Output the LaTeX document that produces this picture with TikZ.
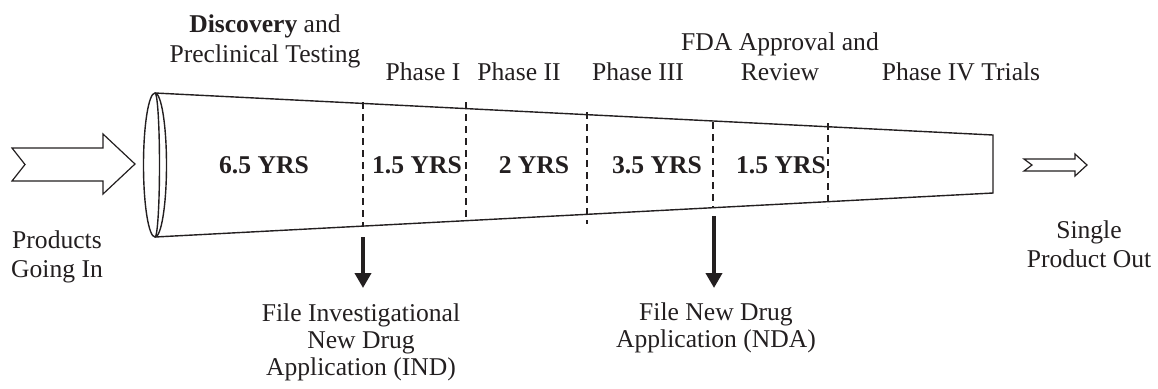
\documentclass[tikz,border=0pt]{standalone}
\usepackage{fontspec}
\setmainfont{Liberation Serif}
\usetikzlibrary{arrows.meta}
\definecolor{ink}{RGB}{35,31,32}
\begin{document}
\begin{tikzpicture}[x=0.5pt,y=-0.5pt,
  every node/.style={inner sep=0pt, text=ink},
  lbl/.style={font=\fontsize{12.8}{15}\selectfont, align=center, anchor=base},
  sidelbl/.style={font=\fontsize{12.8}{14.5}\selectfont, align=center, anchor=base},
  lowlbl/.style={font=\fontsize{12.8}{13.5}\selectfont, align=center, anchor=base},
  yrs/.style={font=\fontsize{12.8}{15}\selectfont\bfseries, anchor=base},
  rim/.style={draw=ink, line width=0.7pt},
  stagediv/.style={draw=ink, line width=0.6pt, dash pattern=on 3.5pt off 2.5pt},
  filearrow/.style={draw=ink, line width=2pt, -{Triangle[length=7.5pt,width=8pt]}},
  hollow/.style={draw=ink, line width=0.6pt, fill=white, line join=miter}
]
\useasboundingbox (0,0) rectangle (1158,388);

% funnel outline
\coordinate (ftl) at (155,93);
\coordinate (fbl) at (155,237);
\coordinate (ftr) at (993,135);
\coordinate (fbr) at (993,193);
\draw[rim] (ftl) -- (ftr) -- (fbr) -- (fbl);
\draw[rim] (155,165) ellipse [x radius=11.5, y radius=72];
\draw[rim] (ftl) arc[start angle=-90, end angle=90, x radius=4.5, y radius=72];

% stage boundaries
\draw[stagediv] (363,102) -- (363,227);
\draw[stagediv] (466,102) -- (466,217);
\draw[stagediv] (587,112) -- (587,224);
\draw[stagediv] (713,122) -- (713,208);
\draw[stagediv] (828,123) -- (828,207);

% hollow in/out arrows
\draw[hollow] (12,148) -- (103,148) -- (103,134) -- (135,164) -- (103,194)
  -- (103,181) -- (12,181) -- (25,164.5) -- cycle;
\draw[hollow] (1024,159) -- (1075,159) -- (1075,154) -- (1087,165) -- (1075,176)
  -- (1075,171) -- (1024,171) -- (1032,165) -- cycle;

% stage headings (base anchor sits on the last line)
\node[lbl] (disc) at (265,62) {\textbf{Discovery} and\\Preclinical Testing};
\node[lbl] (ph1) at (423,80) {Phase I};
\node[lbl] (ph2) at (519,80) {Phase II};
\node[lbl] (ph3) at (638,80) {Phase III};
\node[lbl] (fda) at (780,80) {FDA Approval and\\Review};
\node[lbl] (ph4) at (961,80) {Phase IV Trials};

% stage durations
\node[yrs] (y1) at (264,173) {6.5 YRS};
\node[yrs] (y2) at (417,173) {1.5 YRS};
\node[yrs] (y3) at (534,173) {2 YRS};
\node[yrs] (y4) at (657,173) {3.5 YRS};
\node[yrs] (y5) at (781,173) {1.5 YRS};

% input and output
\node[sidelbl] (prodin) at (57,277) {Products\\Going In};
\node[sidelbl] (prodout) at (1089,267) {Single\\Product Out};

% filings
\coordinate (indtop) at (363,237);
\coordinate (indtip) at (363,288);
\coordinate (ndatop) at (714,216);
\coordinate (ndatip) at (714,288);
\draw[filearrow] (indtop) -- (indtip);
\draw[filearrow] (ndatop) -- (ndatip);
\node[lowlbl] (ind) at (361,375) {File Investigational\\New Drug\\Application (IND)};
\node[lowlbl] (nda) at (716,347) {File New Drug\\Application (NDA)};
\end{tikzpicture}
\end{document}
